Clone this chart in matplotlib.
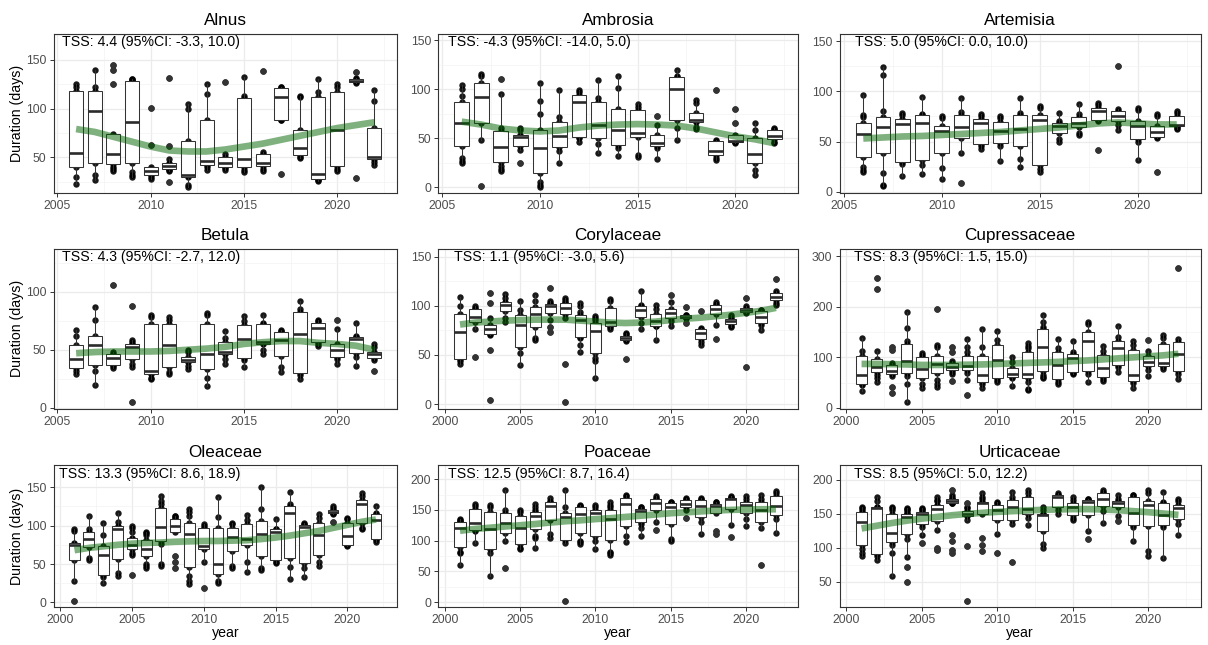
import matplotlib
matplotlib.use("Agg")
import matplotlib.pyplot as plt
from matplotlib.ticker import MultipleLocator, FormatStrFormatter

plt.rcParams['font.family'] = ['Liberation Sans', 'DejaVu Sans']

# ---------------- DATA ----------------
YEARS_06 = list(range(2006, 2023))
YEARS_01 = list(range(2001, 2023))

ALNUS_OBS = [
    [23, 30, 40, 47, 54, 115, 118, 122, 125],
    [27, 32, 44, 70, 97, 112, 118, 122, 140],
    [36, 38, 40, 43, 46, 50, 53, 60, 68, 74, 125, 140, 145],
    [30, 32, 35, 44, 60, 75, 86, 100, 115, 128, 129, 130, 130],
    [28, 30, 32, 34, 36, 38, 40, 63, 101],
    [25, 36, 37, 38, 39, 40, 41, 42, 43, 44, 48, 62, 131],
    [20, 22, 30, 31, 32, 50, 67, 100, 105],
    [37, 40, 42, 44, 46, 70, 88, 115, 125],
    [37, 39, 40, 42, 44, 47, 50, 53, 127],
    [35, 37, 40, 44, 48, 90, 111, 113, 132],
    [36, 38, 41, 43, 44, 50, 53, 55, 139],
    [33, 88, 88, 100, 112, 118, 121, 122, 122],
    [49, 50, 52, 56, 60, 70, 78, 112, 113],
    [26, 27, 28, 30, 33, 80, 112, 117, 130],
    [36, 38, 41, 60, 78, 100, 117, 122, 125],
    [29, 126, 127, 128, 128, 129, 130, 131, 137],
    [42, 45, 48, 49, 50, 65, 80, 108, 119],
]
ALNUS_SMOOTH = [79, 76, 71, 66, 61, 57, 56, 56, 58, 61, 64, 68, 72, 76, 80, 83, 86]
ALNUS_TSS = "TSS: 4.4 (95%CI: -3.3, 10.0)"

AMBROSIA_OBS = [
    [25, 27, 30, 42, 50, 60, 66, 75, 82, 87, 93, 100, 104],
    [1, 48, 66, 80, 92, 100, 106, 114, 116],
    [17, 19, 22, 26, 33, 38, 41, 48, 53, 57, 61, 95, 110],
    [25, 38, 42, 48, 51, 52, 53, 58, 61],
    [0, 2, 5, 15, 25, 33, 40, 50, 55, 58, 75, 88, 106],
    [25, 37, 41, 47, 52, 60, 67, 72, 99],
    [46, 50, 51, 70, 87, 92, 94, 97, 99],
    [35, 44, 50, 58, 64, 75, 87, 91, 109],
    [32, 40, 43, 50, 58, 70, 80, 101, 114],
    [31, 33, 51, 53, 55, 70, 79, 82, 85],
    [29, 40, 42, 44, 45, 50, 53, 64, 73],
    [48, 61, 69, 85, 100, 108, 112, 114, 120],
    [59, 62, 67, 68, 69, 72, 76, 86, 89],
    [28, 30, 33, 35, 37, 42, 47, 48, 99],
    [45, 46, 46, 47, 47, 50, 53, 66, 80],
    [13, 18, 25, 30, 34, 45, 50, 58, 66],
    [45, 46, 49, 51, 52, 55, 58, 59, 61],
]
AMBROSIA_SMOOTH = [67, 64, 60, 58, 57, 58, 61, 63, 64, 64.5, 64, 63, 60, 56, 52, 49, 45]
AMBROSIA_TSS = "TSS: -4.3 (95%CI: -14.0, 5.0)"

ARTEMISIA_OBS = [
    [20, 22, 25, 35, 50, 55, 57, 62, 65, 68, 74, 76, 96],
    [6, 7, 19, 39, 50, 60, 64, 70, 72, 74, 80, 116, 124],
    [16, 28, 30, 50, 67, 70, 72, 76, 78],
    [18, 27, 32, 50, 68, 72, 76, 77, 94],
    [13, 24, 39, 55, 60, 62, 65, 73, 75],
    [9, 39, 53, 60, 64, 70, 76, 79, 93],
    [43, 46, 48, 60, 68, 70, 72, 75, 77],
    [31, 46, 49, 55, 60, 65, 69, 73, 75],
    [25, 33, 46, 55, 62, 70, 76, 78, 93],
    [20, 23, 27, 60, 71, 73, 76, 83, 85],
    [50, 52, 58, 62, 65, 66, 68, 70, 78],
    [56, 58, 64, 66, 68, 71, 74, 77, 87],
    [42, 70, 71, 75, 80, 82, 83, 86, 88],
    [61, 66, 70, 73, 75, 78, 80, 82, 125],
    [32, 50, 52, 60, 65, 68, 70, 81, 83],
    [20, 53, 54, 57, 59, 62, 65, 75, 77],
    [62, 63, 65, 65, 66, 70, 75, 78, 80],
]
ARTEMISIA_SMOOTH = [53, 54, 55, 55.5, 56.5, 57.5, 58.5, 59.5, 61, 62.5, 64, 66, 68, 69, 68, 67, 67]
ARTEMISIA_TSS = "TSS: 5.0 (95%CI: 0.0, 10.0)"

BETULA_OBS = [
    [29, 32, 34, 38, 42, 50, 54, 62, 67],
    [20, 32, 37, 45, 54, 58, 62, 76, 87],
    [34, 36, 37, 40, 43, 45, 46, 48, 106],
    [5, 35, 38, 42, 46, 50, 52, 53, 54, 55, 57, 58, 88],
    [25, 26, 29, 30, 32, 50, 72, 78, 80],
    [29, 31, 35, 45, 54, 65, 72, 76, 78],
    [33, 36, 39, 40, 41, 42, 44, 48, 50],
    [19, 26, 33, 40, 46, 60, 72, 80, 82],
    [38, 42, 46, 47, 48, 52, 57, 60, 66],
    [35, 41, 43, 50, 59, 65, 71, 75, 79],
    [46, 50, 55, 56, 57, 62, 72, 73, 80],
    [31, 35, 45, 52, 58, 62, 65, 66, 67],
    [25, 28, 30, 50, 64, 75, 83, 85, 92],
    [53, 55, 57, 65, 69, 71, 73, 75, 76],
    [38, 42, 44, 47, 50, 52, 55, 68, 76],
    [36, 44, 47, 55, 59, 60, 61, 62, 73],
    [32, 41, 43, 45, 46, 47, 48, 52, 55],
]
BETULA_SMOOTH = [47, 48, 48.5, 48.5, 48.5, 49, 50, 51, 52.5, 55, 56.5, 57.5, 57.5, 56, 55, 53.5, 50]
BETULA_TSS = "TSS: 4.3 (95%CI: -2.7, 12.0)"

CORYLACEAE_OBS = [
    [41, 44, 46, 60, 73, 85, 92, 100, 109],
    [48, 76, 84, 87, 89, 93, 97, 98, 100],
    [4, 55, 70, 71, 73, 75, 76, 78, 80, 81, 88, 103, 113],
    [84, 88, 95, 98, 101, 103, 104, 108, 112],
    [40, 52, 58, 70, 81, 88, 91, 96, 105],
    [65, 67, 78, 85, 92, 96, 99, 105, 111],
    [73, 78, 86, 93, 95, 97, 100, 101, 101, 102, 103, 105, 118],
    [2, 41, 88, 92, 94, 96, 98, 100, 102, 103, 104, 106, 108],
    [53, 60, 67, 68, 75, 80, 86, 88, 90, 91, 94, 100, 103],
    [27, 44, 47, 52, 60, 68, 74, 78, 80, 83, 86, 88, 90],
    [76, 78, 80, 82, 84, 90, 98, 105, 107],
    [46, 64, 65, 66, 67, 68, 69, 71, 72],
    [76, 83, 89, 92, 96, 98, 100, 101, 115],
    [65, 79, 80, 83, 85, 88, 92, 97, 101],
    [79, 85, 88, 90, 93, 95, 97, 104, 111],
    [83, 88, 88, 89, 89, 90, 91, 91, 99],
    [60, 63, 66, 69, 72, 74, 76, 77, 95],
    [66, 81, 92, 95, 97, 99, 101, 102, 104],
    [78, 80, 82, 84, 85, 86, 87, 89, 91],
    [38, 93, 94, 95, 96, 97, 98, 100, 108],
    [75, 81, 83, 86, 89, 92, 95, 96, 96],
    [101, 103, 106, 108, 109, 111, 113, 115, 127],
]
CORYLACEAE_SMOOTH = [81, 83, 84, 85, 85.5, 86, 86, 86, 85, 84, 83, 82.5, 83, 84, 85.5, 87,
                     88, 89.5, 91, 93, 95, 98]
CORYLACEAE_TSS = "TSS: 1.1 (95%CI: -3.0, 5.6)"

CUPRESSACEAE_OBS = [
    [34, 45, 48, 55, 66, 85, 103, 112, 139],
    [51, 60, 65, 72, 75, 78, 80, 84, 90, 96, 112, 235, 257],
    [29, 42, 64, 68, 70, 72, 74, 78, 82, 84, 88, 114, 120],
    [12, 47, 64, 70, 80, 88, 93, 105, 115, 126, 133, 157, 189],
    [40, 48, 60, 70, 77, 90, 100, 105, 108],
    [42, 48, 55, 70, 78, 82, 86, 90, 95, 102, 120, 125, 196],
    [53, 68, 72, 75, 77, 79, 80, 83, 86, 88, 92, 110, 120],
    [26, 56, 70, 76, 78, 80, 82, 90, 98, 103, 110, 120, 137],
    [40, 48, 52, 60, 66, 85, 102, 120, 156],
    [52, 55, 60, 80, 95, 110, 125, 135, 153],
    [43, 60, 61, 65, 68, 72, 78, 90, 100],
    [35, 38, 52, 60, 63, 65, 67, 80, 95, 110, 118, 122, 129],
    [60, 62, 65, 73, 90, 110, 120, 130, 145, 156, 160, 170, 183],
    [47, 52, 57, 70, 84, 100, 110, 118, 137],
    [68, 70, 72, 85, 98, 103, 107, 110, 132],
    [52, 68, 74, 100, 133, 145, 150, 165, 170],
    [53, 57, 62, 70, 78, 90, 104, 112, 123],
    [72, 80, 85, 100, 118, 125, 133, 140, 161],
    [40, 50, 53, 60, 66, 90, 114, 125, 133],
    [63, 75, 83, 87, 90, 95, 102, 113, 135],
    [77, 80, 82, 85, 89, 110, 126, 138, 145],
    [58, 68, 73, 90, 107, 120, 130, 136, 277],
]
CUPRESSACEAE_SMOOTH = [87, 87, 86.5, 86, 85, 85, 85, 85.5, 86, 87, 88, 89, 90, 91, 92.5, 94,
                       96, 98, 100, 102, 104, 107]
CUPRESSACEAE_TSS = "TSS: 8.3 (95%CI: 1.5, 15.0)"

OLEACEAE_OBS = [
    [2, 28, 55, 65, 75, 76, 77, 93, 95],
    [55, 58, 72, 78, 82, 88, 92, 95, 113],
    [25, 33, 36, 50, 62, 68, 73, 88, 104],
    [35, 38, 56, 80, 96, 98, 100, 105, 117],
    [36, 62, 65, 70, 72, 74, 75, 78, 82, 84, 92, 97, 100],
    [45, 47, 50, 61, 64, 67, 69, 74, 78, 81, 88, 90, 92],
    [48, 50, 76, 80, 88, 94, 98, 105, 115, 123, 128, 132, 139],
    [45, 53, 60, 92, 95, 97, 99, 102, 105, 108, 110, 112, 113],
    [24, 28, 35, 46, 60, 75, 89, 95, 100, 104, 112, 118, 122],
    [19, 52, 69, 72, 74, 85, 97, 100, 102],
    [25, 28, 37, 44, 50, 70, 97, 111, 137],
    [45, 48, 67, 78, 85, 92, 97, 102, 104],
    [40, 52, 75, 80, 83, 90, 102, 107, 114],
    [42, 45, 60, 75, 89, 100, 106, 122, 150],
    [51, 53, 55, 80, 92, 93, 95, 96, 108],
    [30, 46, 58, 90, 116, 120, 126, 128, 144],
    [33, 45, 51, 80, 98, 100, 101, 102, 104],
    [48, 53, 62, 75, 88, 95, 104, 110, 115],
    [105, 115, 116, 117, 118, 119, 120, 123, 126],
    [73, 75, 75, 80, 87, 95, 104, 108, 110],
    [95, 97, 103, 115, 128, 131, 134, 138, 143],
    [79, 81, 82, 95, 107, 111, 115, 117, 126],
]
OLEACEAE_SMOOTH = [68, 71, 73, 75, 76.5, 77.5, 78, 79, 79.5, 80, 80, 80.5, 81, 82.5, 84.5, 87,
                   90, 93, 97, 101, 105, 108]
OLEACEAE_TSS = "TSS: 13.3 (95%CI: 8.6, 18.9)"

POACEAE_OBS = [
    [61, 80, 82, 90, 100, 115, 121, 124, 128, 131, 132, 134, 135],
    [96, 116, 118, 125, 129, 140, 151, 157, 160],
    [43, 80, 86, 100, 119, 130, 147, 155, 158],
    [56, 100, 112, 120, 129, 140, 145, 150, 183],
    [86, 88, 95, 110, 120, 130, 140, 147, 150],
    [88, 105, 108, 119, 128, 135, 140, 143, 145, 147, 150, 155, 160],
    [105, 110, 133, 145, 156, 160, 162, 165, 170],
    [1, 96, 101, 120, 138, 142, 145, 155, 183],
    [95, 97, 100, 112, 125, 135, 143, 148, 152, 155, 156, 157, 158],
    [86, 100, 107, 130, 145, 147, 149, 155, 158],
    [77, 80, 82, 101, 115, 125, 135, 140, 145, 149, 155, 158, 162],
    [98, 108, 123, 145, 160, 165, 170, 172, 174],
    [108, 120, 127, 131, 138, 144, 148, 149, 150, 151, 152, 154, 155],
    [118, 130, 150, 156, 161, 165, 168, 170, 173],
    [100, 102, 127, 145, 155, 158, 161, 162, 162],
    [136, 150, 155, 158, 160, 163, 166, 168, 170],
    [111, 130, 139, 150, 156, 160, 166, 168, 170],
    [110, 115, 145, 150, 157, 158, 160, 162, 163],
    [106, 126, 152, 160, 167, 169, 170, 171, 172],
    [124, 135, 145, 152, 158, 160, 163, 168, 172],
    [60, 120, 131, 140, 149, 155, 162, 168, 174],
    [112, 135, 141, 150, 156, 165, 173, 178, 181],
]
POACEAE_SMOOTH = [116, 119, 121, 123, 125, 127, 129.5, 131.5, 133, 135, 136.5, 138.5, 140.5,
                  142.5, 144.5, 146, 147.5, 149, 150, 150.5, 151, 151]
POACEAE_TSS = "TSS: 12.5 (95%CI: 8.7, 16.4)"

URTICACEAE_OBS = [
    [88, 92, 98, 104, 115, 125, 137, 142, 148, 152, 155, 158, 160],
    [81, 87, 91, 130, 158, 159, 160, 168, 175],
    [58, 92, 103, 108, 115, 118, 121, 130, 140, 149, 155, 158, 160],
    [50, 72, 86, 113, 120, 128, 135, 140, 145, 147, 148, 149, 150, 152, 155, 157, 158],
    [107, 118, 130, 135, 142, 147, 150, 151, 151, 152, 155, 157, 158],
    [97, 99, 126, 139, 145, 152, 157, 159, 161, 163, 168, 170, 175],
    [92, 97, 110, 118, 165, 166, 166, 167, 168, 169, 170, 170, 171, 172, 175, 178, 185],
    [22, 102, 140, 146, 148, 149, 150, 151, 152, 153, 158, 160, 166],
    [95, 104, 114, 150, 158, 163, 165, 166, 166, 167, 172, 175, 180],
    [92, 120, 140, 148, 155, 160, 163, 165, 167],
    [78, 135, 141, 150, 160, 165, 170, 175, 181],
    [133, 143, 150, 153, 157, 165, 175, 180, 185],
    [100, 105, 124, 140, 148, 149, 150, 155, 160],
    [150, 155, 160, 170, 175, 176, 177, 178, 180],
    [140, 143, 148, 155, 159, 163, 166, 170, 174],
    [113, 124, 148, 160, 167, 168, 170, 171, 172],
    [136, 153, 161, 166, 171, 175, 180, 182, 185],
    [139, 146, 159, 162, 165, 167, 169, 172, 178],
    [109, 130, 133, 145, 151, 165, 175, 177, 178],
    [87, 95, 131, 150, 162, 166, 169, 180, 185],
    [84, 130, 133, 140, 148, 160, 166, 167, 181],
    [119, 135, 142, 150, 158, 160, 163, 168, 172],
]
URTICACEAE_SMOOTH = [128, 132, 136, 139.5, 142.5, 145, 147.5, 149.5, 151, 152.5, 153.5, 154.5,
                     155.5, 156, 156.5, 156.5, 156, 155, 153.5, 152, 150, 148]
URTICACEAE_TSS = "TSS: 8.5 (95%CI: 5.0, 12.2)"

TAXA = ["Alnus", "Ambrosia", "Artemisia", "Betula", "Corylaceae", "Cupressaceae",
        "Oleaceae", "Poaceae", "Urticaceae"]
PANELS = [
    (YEARS_06, ALNUS_OBS, ALNUS_SMOOTH, ALNUS_TSS),
    (YEARS_06, AMBROSIA_OBS, AMBROSIA_SMOOTH, AMBROSIA_TSS),
    (YEARS_06, ARTEMISIA_OBS, ARTEMISIA_SMOOTH, ARTEMISIA_TSS),
    (YEARS_06, BETULA_OBS, BETULA_SMOOTH, BETULA_TSS),
    (YEARS_01, CORYLACEAE_OBS, CORYLACEAE_SMOOTH, CORYLACEAE_TSS),
    (YEARS_01, CUPRESSACEAE_OBS, CUPRESSACEAE_SMOOTH, CUPRESSACEAE_TSS),
    (YEARS_01, OLEACEAE_OBS, OLEACEAE_SMOOTH, OLEACEAE_TSS),
    (YEARS_01, POACEAE_OBS, POACEAE_SMOOTH, POACEAE_TSS),
    (YEARS_01, URTICACEAE_OBS, URTICACEAE_SMOOTH, URTICACEAE_TSS),
]

# ---------------- LAYOUT ----------------
W, H = 1208, 645
COLS = [(53.5, 397.0), (438.0, 798.0), (839.5, 1200.5)]
ROWS = [(33.5, 192.7), (248.5, 409.3), (465.0, 607.0)]
YLIMS = [(13.7, 177), (-5.4, 156.8), (-1, 157.6),
         (-1.4, 137.4), (-5.4, 158.5), (-2.6, 315),
         (-6, 179), (-8, 223), (12.5, 221.4)]
YSTEP = [50, 50, 50, 50, 50, 100, 50, 50, 50]

fig = plt.figure(figsize=(W / 100, H / 100), dpi=100)

DARK = '#333333'
for i, (name, (years, obs, smooth, tss)) in enumerate(zip(TAXA, PANELS)):
    r, c = divmod(i, 3)
    L, R = COLS[c]
    T, B = ROWS[r]
    ax = fig.add_axes([L / W, 1 - B / H, (R - L) / W, (B - T) / H])

    # points (drawn beneath boxes)
    for yr, vals in zip(years, obs):
        ax.plot([yr] * len(vals), vals, 'o', color='black', ms=4.6, mew=0,
                alpha=0.9, zorder=2)

    ax.boxplot(obs, positions=years, widths=0.75, patch_artist=True,
               showcaps=False, whis=1.5, manage_ticks=False,
               boxprops=dict(facecolor='white', edgecolor=DARK, linewidth=0.75),
               whiskerprops=dict(color=DARK, linewidth=0.75),
               medianprops=dict(color='#2b2b2b', linewidth=1.9),
               flierprops=dict(marker='o', markerfacecolor=DARK, markeredgecolor='none',
                               markersize=4.6),
               zorder=3)

    ax.plot(years, smooth, color='#006400', alpha=0.5, lw=4.8,
            solid_capstyle='butt', solid_joinstyle='round', zorder=5)

    first, last = years[0], years[-1]
    span = (last + 0.375) - (first - 0.375)
    ax.set_xlim(first - 0.375 - 0.05 * span, last + 0.375 + 0.05 * span)
    ax.set_ylim(*YLIMS[i])

    ax.xaxis.set_major_locator(MultipleLocator(5))
    ax.xaxis.set_minor_locator(MultipleLocator(2.5))
    ax.yaxis.set_major_locator(MultipleLocator(YSTEP[i]))
    ax.yaxis.set_minor_locator(MultipleLocator(YSTEP[i] / 2))
    ax.xaxis.set_major_formatter(FormatStrFormatter('%d'))
    ax.yaxis.set_major_formatter(FormatStrFormatter('%d'))

    ax.set_axisbelow(True)
    ax.grid(which='major', color='#EBEBEB', lw=0.9)
    ax.grid(which='minor', color='#F3F3F3', lw=0.5)
    for s in ax.spines.values():
        s.set_color(DARK)
        s.set_linewidth(0.8)
    ax.tick_params(which='major', direction='out', length=3, width=0.7, color=DARK,
                   labelcolor='#4D4D4D', labelsize=8.8, pad=2)
    ax.tick_params(which='minor', length=0)

    ax.set_title(name, fontsize=12.3, pad=6, color='black')

    ax.annotate(tss, xy=(first + 0.25 * (last - first), 1), xycoords=('data', 'axes fraction'),
                xytext=(0, -1.2), textcoords='offset points', ha='center', va='top',
                fontsize=10.2, color='black', zorder=6)

    if c == 0:
        fig.text(17.5 / W, 1 - ((T + B) / 2) / H, 'Duration (days)', rotation=90,
                 ha='center', va='center', fontsize=10.2)
    if r == 2:
        fig.text(((L + R) / 2) / W, 1 - 633 / H, 'year', ha='center', va='center',
                 fontsize=10.2)

fig.savefig('out.png', dpi=100)
